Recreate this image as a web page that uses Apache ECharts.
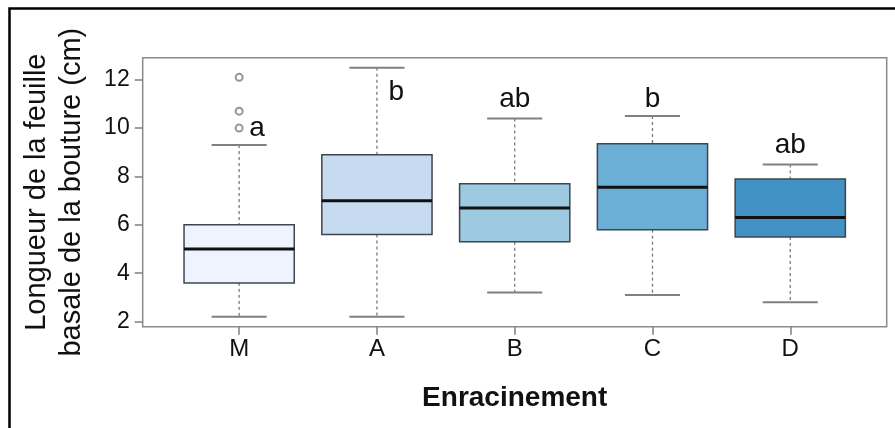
<!DOCTYPE html>
<html>
<head>
<meta charset="utf-8">
<script src="https://cdn.jsdelivr.net/npm/echarts@6/dist/echarts.min.js"></script>
<style>
html,body{margin:0;padding:0;background:#fff;}
#c{width:895px;height:428px;}
</style>
</head>
<body>
<div id="c"></div>
<script>
// ---- data ----
const categories = ['M', 'A', 'B', 'C', 'D'];
const whiskerLow = [2.2, 2.2, 3.2, 3.1, 2.8];
const q1 = [3.6, 5.6, 5.3, 5.8, 5.5];
const median = [5.0, 7.0, 6.7, 7.55, 6.3];
const q3 = [6.0, 8.9, 7.7, 9.35, 7.9];
const whiskerHigh = [9.3, 12.5, 10.4, 10.5, 8.5];
const outlierGroup = [1, 1, 1];
const outlierValues = [12.1, 10.7, 10.0];
const letters = ['a', 'b', 'ab', 'b', 'ab'];
const letterX = [1.13, 2.14, 3, 4, 5];
const letterY = [10.0, 11.5, 11.2, 11.2, 9.3];
const yTicks = [2, 4, 6, 8, 10, 12];
const boxColors = ['#EFF3FF', '#C6DBEF', '#9ECAE1', '#6BAED6', '#4292C6'];

const FONT = '"Liberation Sans", Arial, sans-serif';
const xTickValues = categories.map((c, i) => i + 1);
const boxData = categories.map((c, i) => [i + 1, whiskerLow[i], q1[i], median[i], q3[i], whiskerHigh[i]]);
const outlierData = outlierGroup.map((g, i) => [g, outlierValues[i]]);
const letterData = letters.map((t, i) => ({ value: [letterX[i], letterY[i]], name: t }));

const chart = echarts.init(document.getElementById('c'), null, { renderer: 'canvas' });

function renderBox(params, api) {
  const x = api.value(0);
  const lo = api.value(1), b1 = api.value(2), med = api.value(3), b3 = api.value(4), hi = api.value(5);
  const halfBox = 0.4, halfCap = 0.2;
  const pTL = api.coord([x - halfBox, b3]);
  const pBR = api.coord([x + halfBox, b1]);
  const pMid = api.coord([x, med]);
  const pHi = api.coord([x, hi]);
  const pLo = api.coord([x, lo]);
  const capL = api.coord([x - halfCap, hi])[0];
  const capR = api.coord([x + halfCap, hi])[0];
  const whiskerStyle = { stroke: '#7a7a7a', lineWidth: 1.3, lineDash: [3, 3] };
  const capStyle = { stroke: '#808080', lineWidth: 2 };
  return {
    type: 'group',
    children: [
      { type: 'line', shape: { x1: pHi[0], y1: pHi[1], x2: pHi[0], y2: pTL[1] }, style: whiskerStyle },
      { type: 'line', shape: { x1: pLo[0], y1: pBR[1], x2: pLo[0], y2: pLo[1] }, style: whiskerStyle },
      { type: 'line', shape: { x1: capL, y1: pHi[1], x2: capR, y2: pHi[1] }, style: capStyle },
      { type: 'line', shape: { x1: capL, y1: pLo[1], x2: capR, y2: pLo[1] }, style: capStyle },
      { type: 'rect', shape: { x: pTL[0], y: pTL[1], width: pBR[0] - pTL[0], height: pBR[1] - pTL[1] },
        style: { fill: boxColors[params.dataIndex], stroke: '#3d4650', lineWidth: 1.5 } },
      { type: 'line', shape: { x1: pTL[0], y1: pMid[1], x2: pBR[0], y2: pMid[1] }, style: { stroke: '#111', lineWidth: 3 } }
    ]
  };
}

function renderLetter(params, api) {
  const p = api.coord([api.value(0), api.value(1)]);
  return {
    type: 'text',
    x: p[0], y: p[1],
    style: { text: letterData[params.dataIndex].name, fill: '#111', font: '28px ' + FONT, align: 'center', verticalAlign: 'middle' }
  };
}

chart.setOption({
  animation: false,
  backgroundColor: '#fff',
  graphic: [{
    type: 'rect', left: 7, top: 6, shape: { width: 1000, height: 1000 },
    style: { fill: 'none', stroke: '#000', lineWidth: 2.5 }, silent: true, z: 0
  }],
  grid: {
    left: 142.7, top: 57.7, width: 744, height: 269,
    show: true, borderColor: '#8a8a8a', borderWidth: 1.5, backgroundColor: 'transparent'
  },
  xAxis: {
    type: 'value', min: 0.3, max: 5.7,
    name: 'Enracinement', nameLocation: 'middle', nameGap: 58,
    nameTextStyle: { fontFamily: FONT, fontSize: 28, fontWeight: 'bold', color: '#111' },
    axisLine: { show: false }, splitLine: { show: false },
    axisTick: { show: true, customValues: xTickValues, length: 8, lineStyle: { color: '#808080', width: 1.5 } },
    axisLabel: { customValues: xTickValues, formatter: v => categories[Math.round(v) - 1] || '', fontFamily: FONT, fontSize: 24, color: '#111', margin: 11 }
  },
  yAxis: {
    type: 'value', min: 1.788, max: 12.912,
    name: 'Longueur de la feuille\nbasale de la bouture (cm)', nameLocation: 'middle', nameRotate: 90, nameGap: 53,
    nameTextStyle: { fontFamily: FONT, fontSize: 29, color: '#111', lineHeight: 35 },
    axisLine: { show: false }, splitLine: { show: false },
    axisTick: { show: true, customValues: yTicks, length: 8, lineStyle: { color: '#808080', width: 1.5 } },
    axisLabel: { customValues: yTicks, fontFamily: FONT, fontSize: 23, color: '#111', margin: 13 }
  },
  series: [
    { type: 'custom', renderItem: renderBox, data: boxData, encode: { x: 0, y: [1, 2, 3, 4, 5] }, z: 2 },
    { type: 'scatter', data: outlierData, symbol: 'emptyCircle', symbolSize: 7,
      itemStyle: { color: '#7a7a7a', borderColor: '#7a7a7a', borderWidth: 1.5 }, z: 3 },
    { type: 'custom', renderItem: renderLetter, data: letterData.map(d => d.value), encode: { x: 0, y: 1 }, z: 4 }
  ]
});
</script>
</body>
</html>
